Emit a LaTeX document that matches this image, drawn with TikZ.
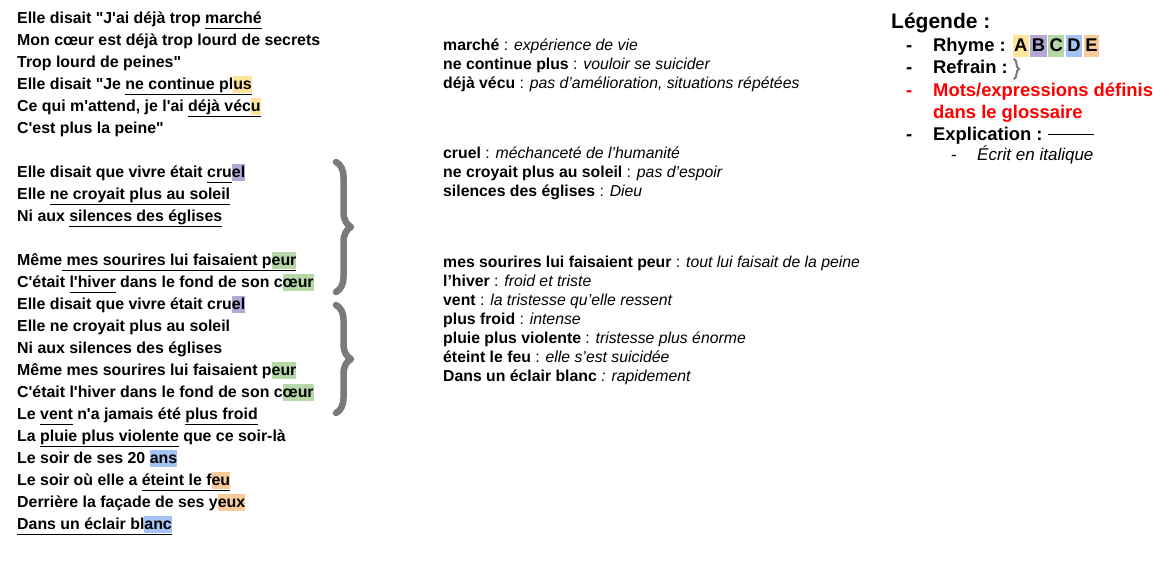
\documentclass[tikz,border=0pt]{standalone}
\usepackage{fontspec}
\newfontfamily\lsans{Liberation Sans}
\usetikzlibrary{decorations.pathreplacing}
\definecolor{hA}{HTML}{FFE599}
\definecolor{hB}{HTML}{B4A7D6}
\definecolor{hC}{HTML}{B6D7A8}
\definecolor{hD}{HTML}{A4C2F4}
\definecolor{hE}{HTML}{F9CB9C}
\definecolor{bracegray}{HTML}{7A7A7A}
\definecolor{legred}{HTML}{FF0000}
\newsavebox\myulbox
\newcommand\myhl[2]{{\setlength{\fboxsep}{0pt}\colorbox{#1}{\rule[-4pt]{0pt}{17.5pt}#2}}}
\newcommand\myul[1]{\sbox\myulbox{#1}\usebox\myulbox\llap{\rule[-5.5pt]{\wd\myulbox}{0.9pt}}}
\newcommand\lbox[2]{{\setlength{\fboxsep}{0pt}\colorbox{#1}{\rule[-5.5pt]{0pt}{21.5pt}\hspace{1.5pt}#2\hspace{1.5pt}}}}
\newcommand\gl[2]{{\bfseries #1} : {\itshape #2}}
\tikzset{
  verse/.style={anchor=base west,inner sep=0pt,font=\lsans\bfseries\fontsize{15.9}{18}\selectfont},
  gloss/.style={anchor=base west,inner sep=0pt,font=\lsans\fontsize{15.8}{18}\selectfont},
  legtitle/.style={anchor=base west,inner sep=0pt,font=\lsans\bfseries\fontsize{21}{24}\selectfont},
  legitem/.style={anchor=base west,inner sep=0pt,font=\lsans\bfseries\fontsize{18.4}{21}\selectfont},
  legsub/.style={anchor=base west,inner sep=0pt,font=\lsans\fontsize{17}{20}\selectfont},
  refrain/.style={decorate,decoration={brace,amplitude=15pt},draw=bracegray,line width=6.5pt,line cap=round,line join=round},
  smallrefrain/.style={decorate,decoration={brace,amplitude=5pt},draw=bracegray,line width=2pt,line cap=round},
}
\begin{document}
\begin{tikzpicture}[x=1pt,y=1pt]
\useasboundingbox[fill=white] (0,0) rectangle (1169,-566);
% poem
\node[verse] (l1) at (17,-23) {Elle disait "J'ai déjà trop \myul{marché}};
\node[verse] (l2) at (17,-45) {Mon cœur est déjà trop lourd de secrets};
\node[verse] (l3) at (17,-67) {Trop lourd de peines"};
\node[verse] (l4) at (17,-89) {Elle disait "Je \myul{ne continue pl\myhl{hA}{us}}};
\node[verse] (l5) at (17,-111) {Ce qui m'attend, je l'ai \myul{déjà véc\myhl{hA}{u}}};
\node[verse] (l6) at (17,-133) {C'est plus la peine"};
\node[verse] (l7) at (17,-177) {Elle disait que vivre était \myul{cru}\myhl{hB}{el}};
\node[verse] (l8) at (17,-199) {Elle \myul{ne croyait plus au soleil}};
\node[verse] (l9) at (17,-221) {Ni aux \myul{silences des églises}};
\node[verse] (l10) at (17,-265) {Même\myul{ mes sourires lui faisaient p\myhl{hC}{eur}}};
\node[verse] (l11) at (17,-287) {C'était \myul{l'hiver} dans le fond de son c\myhl{hC}{œur}};
\node[verse] (l12) at (17,-309) {Elle disait que vivre était cru\myhl{hB}{el}};
\node[verse] (l13) at (17,-331) {Elle ne croyait plus au soleil};
\node[verse] (l14) at (17,-353) {Ni aux silences des églises};
\node[verse] (l15) at (17,-375) {Même mes sourires lui faisaient p\myhl{hC}{eur}};
\node[verse] (l16) at (17,-397) {C'était l'hiver dans le fond de son c\myhl{hC}{œur}};
\node[verse] (l17) at (17,-419) {Le \myul{vent} n'a jamais été \myul{plus froid}};
\node[verse] (l18) at (17,-441) {La \myul{pluie plus violente} que ce soir-là};
\node[verse] (l19) at (17,-463) {Le soir de ses 20 \myhl{hD}{ans}};
\node[verse] (l20) at (17,-485) {Le soir où elle a \myul{éteint le f\myhl{hE}{eu}}};
\node[verse] (l21) at (17,-507) {Derrière la façade de ses y\myhl{hE}{eux}};
\node[verse] (l22) at (17,-529) {\myul{Dans un éclair bl\myhl{hD}{anc}}};
% refrain braces
\coordinate (b1t) at (336,-162);
\coordinate (b1b) at (336,-292);
\coordinate (b2t) at (336,-305);
\coordinate (b2b) at (336,-413);
\draw[refrain] (b1t) -- (b1b);
\draw[refrain] (b2t) -- (b2b);
% glossary
\node[gloss] (g1) at (443,-50) {\gl{marché}{expérience de vie}};
\node[gloss] (g2) at (443,-69) {\gl{ne continue plus}{vouloir se suicider}};
\node[gloss] (g3) at (443,-88) {\gl{déjà vécu}{pas d’amélioration, situations répétées}};
\node[gloss] (g4) at (443,-158) {\gl{cruel}{méchanceté de l’humanité}};
\node[gloss] (g5) at (443,-177) {\gl{ne croyait plus au soleil}{pas d’espoir}};
\node[gloss] (g6) at (443,-196) {\gl{silences des églises}{Dieu}};
\node[gloss] (g7) at (443,-267) {\gl{mes sourires lui faisaient peur}{tout lui faisait de la peine}};
\node[gloss] (g8) at (443,-286) {\gl{l’hiver}{froid et triste}};
\node[gloss] (g9) at (443,-305) {\gl{vent}{la tristesse qu’elle ressent}};
\node[gloss] (g10) at (443,-324) {\gl{plus froid}{intense}};
\node[gloss] (g11) at (443,-343) {\gl{pluie plus violente}{tristesse plus énorme}};
\node[gloss] (g12) at (443,-362) {\gl{éteint le feu}{elle s’est suicidée}};
\node[gloss] (g13) at (443,-381) {{\bfseries Dans un éclair blanc} {\itshape : rapidement}};
% legend
\node[legtitle] (lt) at (891,-28) {Légende :};
\node[legitem] (d1) at (906,-51) {-};
\node[legitem] (t1) at (933,-51) {Rhyme : \lbox{hA}{A}\hspace{1.5pt}\lbox{hB}{B}\hspace{1.5pt}\lbox{hC}{C}\hspace{1.5pt}\lbox{hD}{D}\hspace{1.5pt}\lbox{hE}{E}};
\node[legitem] (d2) at (906,-73) {-};
\node[legitem] (t2) at (933,-73) {Refrain :};
\coordinate (sbt) at (1014,-59);
\coordinate (sbb) at (1014,-79);
\draw[smallrefrain] (sbt) -- (sbb);
\node[legitem,text=legred] (d3) at (906,-96) {-};
\node[legitem,text=legred] (t3) at (933,-96) {Mots/expressions définis};
\node[legitem,text=legred] (t3b) at (933,-118) {dans le glossaire};
\node[legitem] (d4) at (906,-140) {-};
\node[legitem] (t4) at (933,-140) {Explication :};
\coordinate (el1) at (1048,-134);
\coordinate (el2) at (1094,-134);
\draw[line width=0.9pt] (el1) -- (el2);
\node[legsub] (d5) at (951,-160) {-};
\node[legsub] (t5) at (977,-160) {\itshape Écrit en italique};
\end{tikzpicture}
\end{document}
